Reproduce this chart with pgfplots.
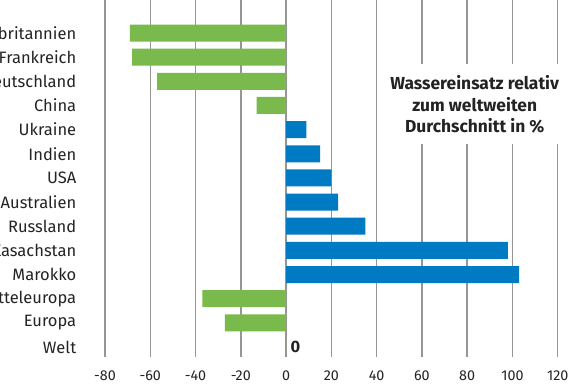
\documentclass[border=0pt]{standalone}
\usepackage{fontspec}
\setmainfont{Fira Sans}
\usepackage{pgfplots}
\pgfplotsset{compat=1.18}
\definecolor{bargreen}{RGB}{122,185,76}
\definecolor{barblue}{RGB}{0,122,194}
\definecolor{gridgray}{RGB}{150,150,150}
\definecolor{txt}{RGB}{35,35,35}
\begin{document}
\begin{tikzpicture}
\useasboundingbox (0,0) rectangle (575pt,383pt);
\clip (0,0) rectangle (575pt,383pt);
\begin{axis}[
  at={(105pt,26pt)}, anchor=south west,
  scale only axis, width=452.7pt, height=357.8pt,
  xmin=-80, xmax=120, ymin=-0.414, ymax=14.4,
  axis line style={draw=none},
  tick style={draw=none},
  xmajorgrids, grid style={gridgray, line width=1.4pt},
  xtick={-80,-60,...,120},
  ytick={0,...,13},
  yticklabels={Welt,Europa,Mitteleuropa,Marokko,Kasachstan,Russland,Australien,USA,Indien,Ukraine,China,Deutschland,Frankreich,Großbritannien},
  yticklabel style={font=\fontsize{16.5}{18}\selectfont, text=txt, xshift=-21pt},
  xticklabel style={font=\fontsize{14.3}{16}\selectfont, text=txt, yshift=-10pt},
  /pgf/number format/assume math mode=true,
  xbar, bar width=17pt, bar shift=0pt,
]
\addplot[fill=bargreen, draw=none] coordinates {
  (-69,13) (-68,12) (-57,11) (-13,10) (-37,2) (-27,1) (0,0)
};
\addplot[fill=barblue, draw=none] coordinates {
  (9,9) (15,8) (20,7) (23,6) (35,5) (98,4) (103,3)
};
\node[anchor=west, font=\bfseries\fontsize{16.5}{18}\selectfont, text=txt] at (axis cs:0.5,0) {0};
\end{axis}
\node[fill=white, inner sep=4pt, align=center, text=txt, font=\bfseries\fontsize{17.4}{21.3}\selectfont, minimum width=185pt, minimum height=80pt] at (474.7pt,278.5pt) {Wassereinsatz relativ\\zum weltweiten\\Durchschnitt in \%};
\end{tikzpicture}
\end{document}
